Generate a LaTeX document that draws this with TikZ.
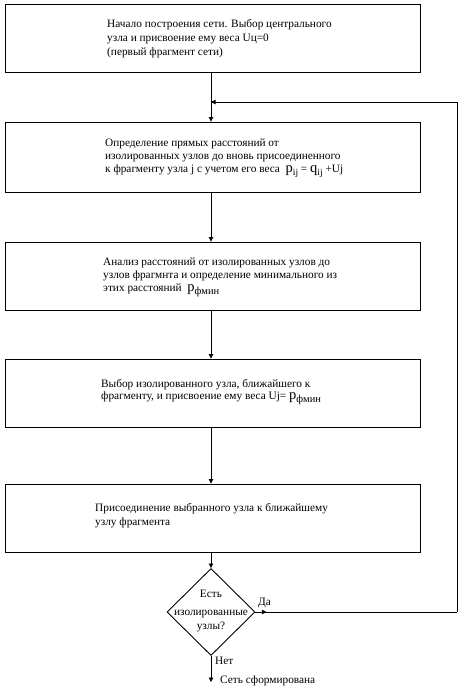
\documentclass[tikz,border=0pt]{standalone}
\usepackage{fontspec}
\setmainfont{Liberation Serif}
\usetikzlibrary{shapes.geometric,arrows.meta}
\newcommand\bigsub[2]{{\fontsize{14.5}{14.5}\selectfont #1}\raisebox{-3pt}{\fontsize{9.5}{9.5}\selectfont #2}}
\begin{document}
\begin{tikzpicture}[x=1pt,y=-1pt,
  box/.style={draw,line width=0.9pt,minimum width=415pt,inner sep=0pt},
  txt/.style={anchor=west,align=left,inner sep=0pt,font=\fontsize{11.3}{14}\selectfont},
  tight/.style={font=\fontsize{11.3}{12.8}\selectfont},
  lbl/.style={inner sep=0pt,font=\fontsize{11.3}{14}\selectfont},
  conn/.style={line width=0.8pt},
  arr/.style={line width=0.8pt,-{Triangle[width=4.5pt,length=4.5pt]}}]
\useasboundingbox (0,0) rectangle (468,688);
\node[box,minimum height=68pt] (b1) at (212.5,38) {};
\node[box,minimum height=70pt] (b2) at (212.5,157) {};
\node[box,minimum height=68pt] (b3) at (212.5,276) {};
\node[box,minimum height=68pt] (b4) at (212.5,393) {};
\node[box,minimum height=68pt] (b5) at (212.5,518) {};
\node[draw,shape=diamond,line width=0.9pt,minimum width=88pt,minimum height=87pt,inner sep=0pt] (d) at (211,612) {};

\node[txt] (t1) at (107,38.5) {Начало построения сети. Выбор центрального\\узла и присвоение ему веса Uц=0\\(первый фрагмент сети)};
\node[txt,tight] (t2) at (105,158) {Определение прямых расстояний от\\изолированных узлов до вновь присоединенного\\к фрагменту узла j с учетом его веса \ \bigsub{p}{ij} = \bigsub{q}{ij} +Uj};
\node[txt,tight] (t3) at (103,277) {Анализ расстояний от изолированных узлов до\\узлов фрагмнта и определение минимального из\\этих расстояний \ \bigsub{p}{\fontsize{10.5}{10.5}\selectfont фмин}};
\node[txt,tight] (t4) at (101,392) {Выбор изолированного узла, ближайшего к\\фрагменту, и присвоение ему веса Uj= \bigsub{p}{\fontsize{10.5}{10.5}\selectfont фмин}};
\node[txt] (t5) at (95,515.5) {Присоединение выбранного узла к ближайшему\\узлу фрагмента};
\node[lbl,align=center] (td) at (211,611) {Есть\\[4pt]изолированные\\узлы?};
\node[lbl,anchor=south west] (yes) at (258,608) {Да};
\node[lbl,anchor=west] (no) at (215,661) {Нет};
\coordinate (endp) at (211,682);
\node[lbl,anchor=west] (done) at (220,681) {Сеть сформирована};

\coordinate (fb) at (211,102);
\coordinate (r) at (457,612);
\draw[arr] (b1.south -| fb) -- (b2.north -| fb);
\draw[arr] (b2.south -| fb) -- (b3.north -| fb);
\draw[arr] (b3.south -| fb) -- (b4.north -| fb);
\draw[arr] (b4.south -| fb) -- (b5.north -| fb);
\draw[arr] (b5.south -| fb) -- (d.north);
\draw[conn] (d.east) -- (r);
\draw[arr] (d.east) -- ++(11,0);
\draw[arr] (r) |- (fb);
\draw[arr] (d.south) -- (endp);
\end{tikzpicture}
\end{document}
